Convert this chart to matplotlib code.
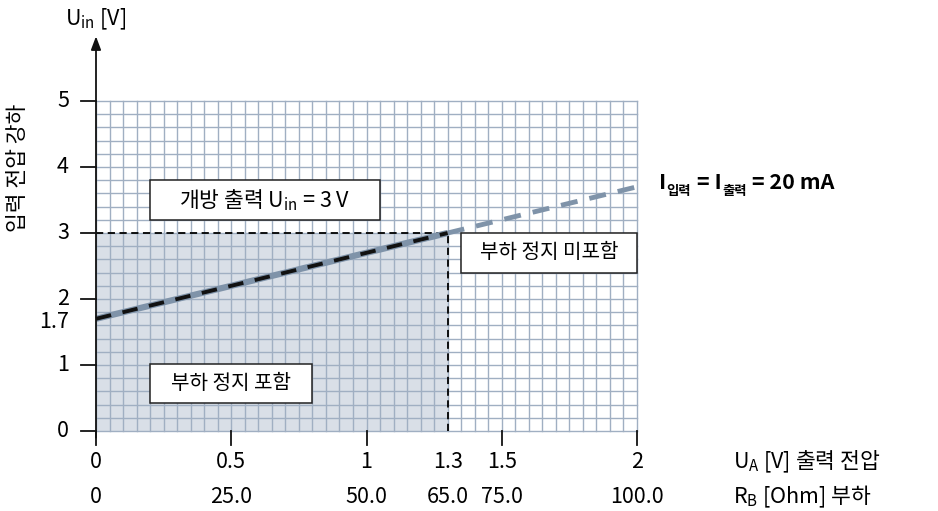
import matplotlib

matplotlib.use("Agg")

import matplotlib.pyplot as plt
import numpy as np
from matplotlib.patches import Rectangle

plt.rcParams["font.family"] = ["Noto Sans CJK KR", "DejaVu Sans"]
plt.rcParams["mathtext.fontset"] = "custom"
plt.rcParams["mathtext.rm"] = "Noto Sans CJK KR"
plt.rcParams["mathtext.it"] = "Noto Sans CJK KR"

# data
ua_line = [0.0, 1.3, 2.0]
uin_line = [1.7, 3.0, 3.7]
ua_ticks = [0, 0.5, 1, 1.3, 1.5, 2]
ua_labels = ["0", "0.5", "1", "1.3", "1.5", "2"]
rb_labels = ["0", "25.0", "50.0", "65.0", "75.0", "100.0"]
uin_ticks = [0, 1, 2, 3, 4, 5]
uin_extra = 1.7
knee_ua, knee_uin = 1.3, 3.0

GRID = "#a0afc2"
LINE = "#7f93a9"
FILL = "#d9dfe7"
FS = 15.5

fig = plt.figure(figsize=(9.38, 5.11), dpi=100)
ax = fig.add_axes([0, 0, 1, 1])
# pixel mapping: x 0->96px, 2->637px ; y 0->431px, 5->101px
sx, sy = 270.5, 66.0
ax.set_xlim(-96 / sx, (938 - 96) / sx)
ax.set_ylim(-(511 - 431) / sy, 431 / sy)
ax.axis("off")

# shaded area
ax.add_patch(Rectangle((0, 0), knee_ua, knee_uin, facecolor=FILL, edgecolor="none", zorder=1))

# grid
for gx in np.arange(0, 2.0001, 0.05):
    ax.plot([gx, gx], [0, 5], color=GRID, lw=1.0, zorder=2)
for gy in np.arange(0, 5.0001, 0.2):
    ax.plot([0, 2], [gy, gy], color=GRID, lw=1.0, zorder=2)

# dashed knee lines
ax.plot([0, knee_ua], [knee_uin, knee_uin], color="black", lw=1.3, ls=(0, (4, 2.5)), zorder=3)
ax.plot([knee_ua, knee_ua], [0, knee_uin], color="black", lw=1.3, ls=(0, (4, 2.5)), zorder=3)

# characteristic line
ax.plot(ua_line[:2], uin_line[:2], color=LINE, lw=4.5, solid_capstyle="butt", zorder=4)
ax.plot(ua_line[:2], uin_line[:2], color="#111111", lw=2.8, ls=(0, (4, 3)), zorder=5)
ax.plot(ua_line[1:], uin_line[1:], color=LINE, lw=3.5, ls=(0, (3.5, 2.5)), zorder=4)

# boxes
boxes = [
    ((0.2, 3.2), 0.85, 0.6, r"개방 출력 U$_{\mathrm{in}}$ = 3 V", FS),
    ((1.35, 2.4), 0.65, 0.6, "부하 정지 미포함", 14.5),
    ((0.2, 0.42), 0.6, 0.6, "부하 정지 포함", 14.5),
]
for (bx, by), bw, bh, txt, fs in boxes:
    ax.add_patch(Rectangle((bx, by), bw, bh, facecolor="white", edgecolor="#222222", lw=1.1, zorder=6))
    ax.text(bx + bw / 2, by + bh / 2, txt, ha="center", va="center", fontsize=fs, zorder=7)

# axes with arrows
ax.annotate("", xy=(3.115, 0), xytext=(0, 0),
            arrowprops=dict(arrowstyle="-|>,head_length=0.8,head_width=0.3", color="#111111", lw=1.3,
                            shrinkA=0, shrinkB=0), zorder=8)
ax.annotate("", xy=(0, 5.98), xytext=(0, -0.1),
            arrowprops=dict(arrowstyle="-|>,head_length=0.8,head_width=0.3", color="#111111", lw=1.3,
                            shrinkA=0, shrinkB=0), zorder=8)

# y ticks
for t in uin_ticks:
    ax.plot([-0.055, 0], [t, t], color="#111111", lw=1.3, zorder=8)
    ax.text(-0.1, t, str(t), ha="right", va="center", fontsize=FS)
ax.text(-0.1, uin_extra - 0.05, str(uin_extra), ha="right", va="center", fontsize=FS)

# x ticks
for t, lab, rlab in zip(ua_ticks, ua_labels, rb_labels):
    if t != knee_ua:
        ax.plot([t, t], [0, -0.21], color="#111111", lw=1.3, zorder=8)
    ax.text(t, -0.47, lab, ha="center", va="center", fontsize=FS)
    ax.text(t, -1.0, rlab, ha="center", va="center", fontsize=FS)

ax.text(2.355, -0.47, r"U$_{\mathrm{A}}$ [V] 출력 전압", ha="left", va="center", fontsize=FS)
ax.text(2.355, -1.0, r"R$_{\mathrm{B}}$ [Ohm] 부하", ha="left", va="center", fontsize=FS)

ax.text(0.0, 6.23, r"U$_{\mathrm{in}}$ [V]", ha="center", va="center", fontsize=FS)
ax.text(-0.29, 3.98, "입력 전압 강하", ha="center", va="center", rotation=90, fontsize=FS)

# bold current label, built piece by piece for subscripts
first = ax.text(2.08, 3.6, "I", ha="left", va="bottom", fontsize=FS, fontweight="bold")
prev = first
pieces = [("입력", True), (" = I", False), ("출력", True), (" = 20 mA", False)]
for s, sub in pieces:
    if sub:
        prev = ax.annotate(s, xy=(1, 0), xycoords=(prev, first), xytext=(0.5, -3.5),
                           textcoords="offset points", ha="left", va="bottom",
                           fontsize=FS * 0.62, fontweight="bold")
    else:
        prev = ax.annotate(s, xy=(1, 0), xycoords=(prev, first), xytext=(0.5, 0),
                           textcoords="offset points", ha="left", va="bottom",
                           fontsize=FS, fontweight="bold")

fig.savefig("out.png", dpi=100)
